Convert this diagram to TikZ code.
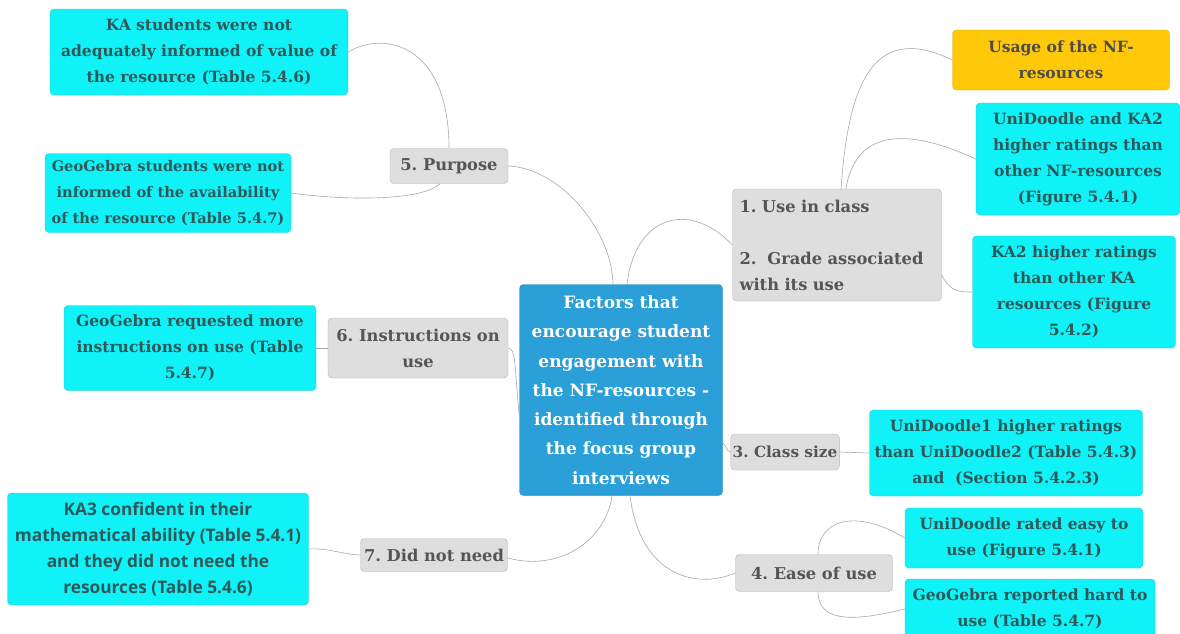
\documentclass[tikz,border=0pt]{standalone}
\usepackage{fontspec}
\setmainfont{DejaVu Serif}
\newfontfamily\leafsans{Open Sans}
\usetikzlibrary{positioning}
\frenchspacing

\definecolor{leafcyan}{HTML}{0FF2F7}
\definecolor{leafedge}{HTML}{2CC9D2}
\definecolor{leaftext}{HTML}{2F5859}
\definecolor{topicgray}{HTML}{DEDEDE}
\definecolor{topicedge}{HTML}{B5B5B5}
\definecolor{topictext}{HTML}{555555}
\definecolor{rootblue}{HTML}{2A9FD8}
\definecolor{usageorange}{HTML}{FFC90A}
\definecolor{linkgray}{HTML}{A8A8A8}

\begin{document}
\begin{tikzpicture}[
  x=1pt, y=-1pt,
  leaf/.style={draw=leafedge, fill=leafcyan, rounded corners=4pt, align=center,
    text=leaftext, inner sep=2pt, font=\bfseries\fontsize{15.5}{26}\selectfont},
  topic/.style={draw=topicedge, fill=topicgray, rounded corners=4pt, align=center,
    text=topictext, inner sep=2pt, font=\bfseries\fontsize{16.3}{26}\selectfont},
  rootbox/.style={draw=rootblue!85!black, fill=rootblue, rounded corners=4pt, align=center,
    text=white, inner sep=2pt, font=\bfseries\fontsize{17}{29.3}\selectfont},
  link/.style={draw=linkgray, line width=0.6pt}
]
\fill[white] (0,0) rectangle (1180,633);
\useasboundingbox (0,0) rectangle (1180,633);

% centre
\node[rootbox, minimum width=203pt, minimum height=211pt] (root) at (621,390)
  {Factors that\\encourage student\\engagement with\\the NF-resources -\\identified through\\the focus group\\interviews};

% left side
\node[topic, minimum width=118pt, minimum height=35pt] (purpose) at (449,166) {5. Purpose};
\node[leaf, minimum width=298pt, minimum height=86pt] (kainfo) at (199,52)
  {KA students were not\\adequately informed of value of\\the resource (Table 5.4.6)};
\node[leaf, minimum width=246pt, minimum height=79pt,
  font=\bfseries\fontsize{14.6}{26}\selectfont] (geoavail) at (168,193)
  {GeoGebra students were not\\informed of the availability\\of the resource (Table 5.4.7)};
\node[topic, minimum width=180pt, minimum height=60pt] (instr) at (418,348) {6. Instructions on\\use};
\node[leaf, minimum width=252pt, minimum height=85pt] (geoinstr) at (190,348)
  {GeoGebra requested more\\instructions on use (Table\\5.4.7)};
\node[topic, minimum width=147pt, minimum height=33pt] (noneed) at (434,555) {7. Did not need};
\node[leaf, minimum width=301pt, minimum height=112pt,
  font=\leafsans\bfseries\fontsize{17.3}{26}\selectfont] (kaconf) at (158,549)
  {KA3 confident in their\\mathematical ability (Table 5.4.1)\\and they did not need the\\resources (Table 5.4.6)};

% right side
\node[topic, align=left, text width=195pt, inner xsep=7pt, minimum height=112pt] (usein) at (837,245)
  {1. Use in class\\[26pt]2.\ \ Grade associated\\with its use};
\node[leaf, fill=usageorange, draw=usageorange!85!black, text=topictext!90!black,
  minimum width=217pt, minimum height=60pt] (usage) at (1061,60) {Usage of the NF-\\resources};
\node[leaf, minimum width=204pt, minimum height=112pt] (unika) at (1078,159)
  {UniDoodle and KA2\\higher ratings than\\other NF-resources\\(Figure 5.4.1)};
\node[leaf, minimum width=203pt, minimum height=112pt] (karatings) at (1074,292)
  {KA2 higher ratings\\than other KA\\resources (Figure\\5.4.2)};
\node[topic, minimum width=108pt, minimum height=36pt,
  font=\bfseries\fontsize{15.3}{26}\selectfont] (classsize) at (785,452) {3. Class size};
\node[leaf, minimum width=273pt, minimum height=86pt] (unisize) at (1006,453)
  {UniDoodle1 higher ratings\\than UniDoodle2 (Table 5.4.3)\\and\ \ (Section 5.4.2.3)};
\node[topic, minimum width=157pt, minimum height=37pt] (ease) at (814,573) {4. Ease of use};
\node[leaf, minimum width=238pt, minimum height=60pt] (unieasy) at (1024,538)
  {UniDoodle rated easy to\\use (Figure 5.4.1)};
\node[leaf, minimum width=250pt, minimum height=60pt] (geohard) at (1030,609)
  {GeoGebra reported hard to\\use (Table 5.4.7)};

% connectors
\draw[link] (purpose.east) .. controls (560,168) and (612,230) .. ([xshift=-8pt]root.north);
\draw[link] ([xshift=6pt]root.north) .. controls (635,215) and (690,200) .. (usein.west);
\draw[link] (purpose.north) .. controls (449,45) and (385,30) .. (kainfo.east);
\draw[link] ([xshift=-9pt]purpose.south) .. controls (420,202) and (340,200) .. (geoavail.east);
\draw[link] (instr.east) .. controls (516,350) and (514,360) .. ([yshift=-27pt]root.west);
\draw[link] (instr.west) -- (geoinstr.east);
\draw[link] ([yshift=-3pt]noneed.east) .. controls (560,572) and (606,540) .. ([xshift=-9pt]root.south);
\draw[link] (noneed.west) .. controls (340,554) and (330,548) .. (kaconf.east);
\draw[link] ([xshift=4pt]usein.north) .. controls (848,90) and (870,20) .. (usage.west);
\draw[link] ([xshift=9pt]usein.north) .. controls (852,150) and (880,115) .. (unika.west);
\draw[link] ([yshift=-30pt]usein.east) .. controls (950,292) and (960,292) .. (karatings.west);
\draw[link] ([yshift=-53pt]root.east) .. controls (726,445) and (727,452) .. (classsize.west);
\draw[link] (classsize.east) -- (unisize.west);
\draw[link] ([xshift=9pt]root.south) .. controls (640,575) and (695,590) .. (ease.west);
\draw[link] ([xshift=4pt]ease.north) .. controls (818,520) and (855,508) .. (unieasy.west);
\draw[link] ([xshift=4pt]ease.south) .. controls (818,625) and (860,620) .. (geohard.west);

\end{tikzpicture}
\end{document}
